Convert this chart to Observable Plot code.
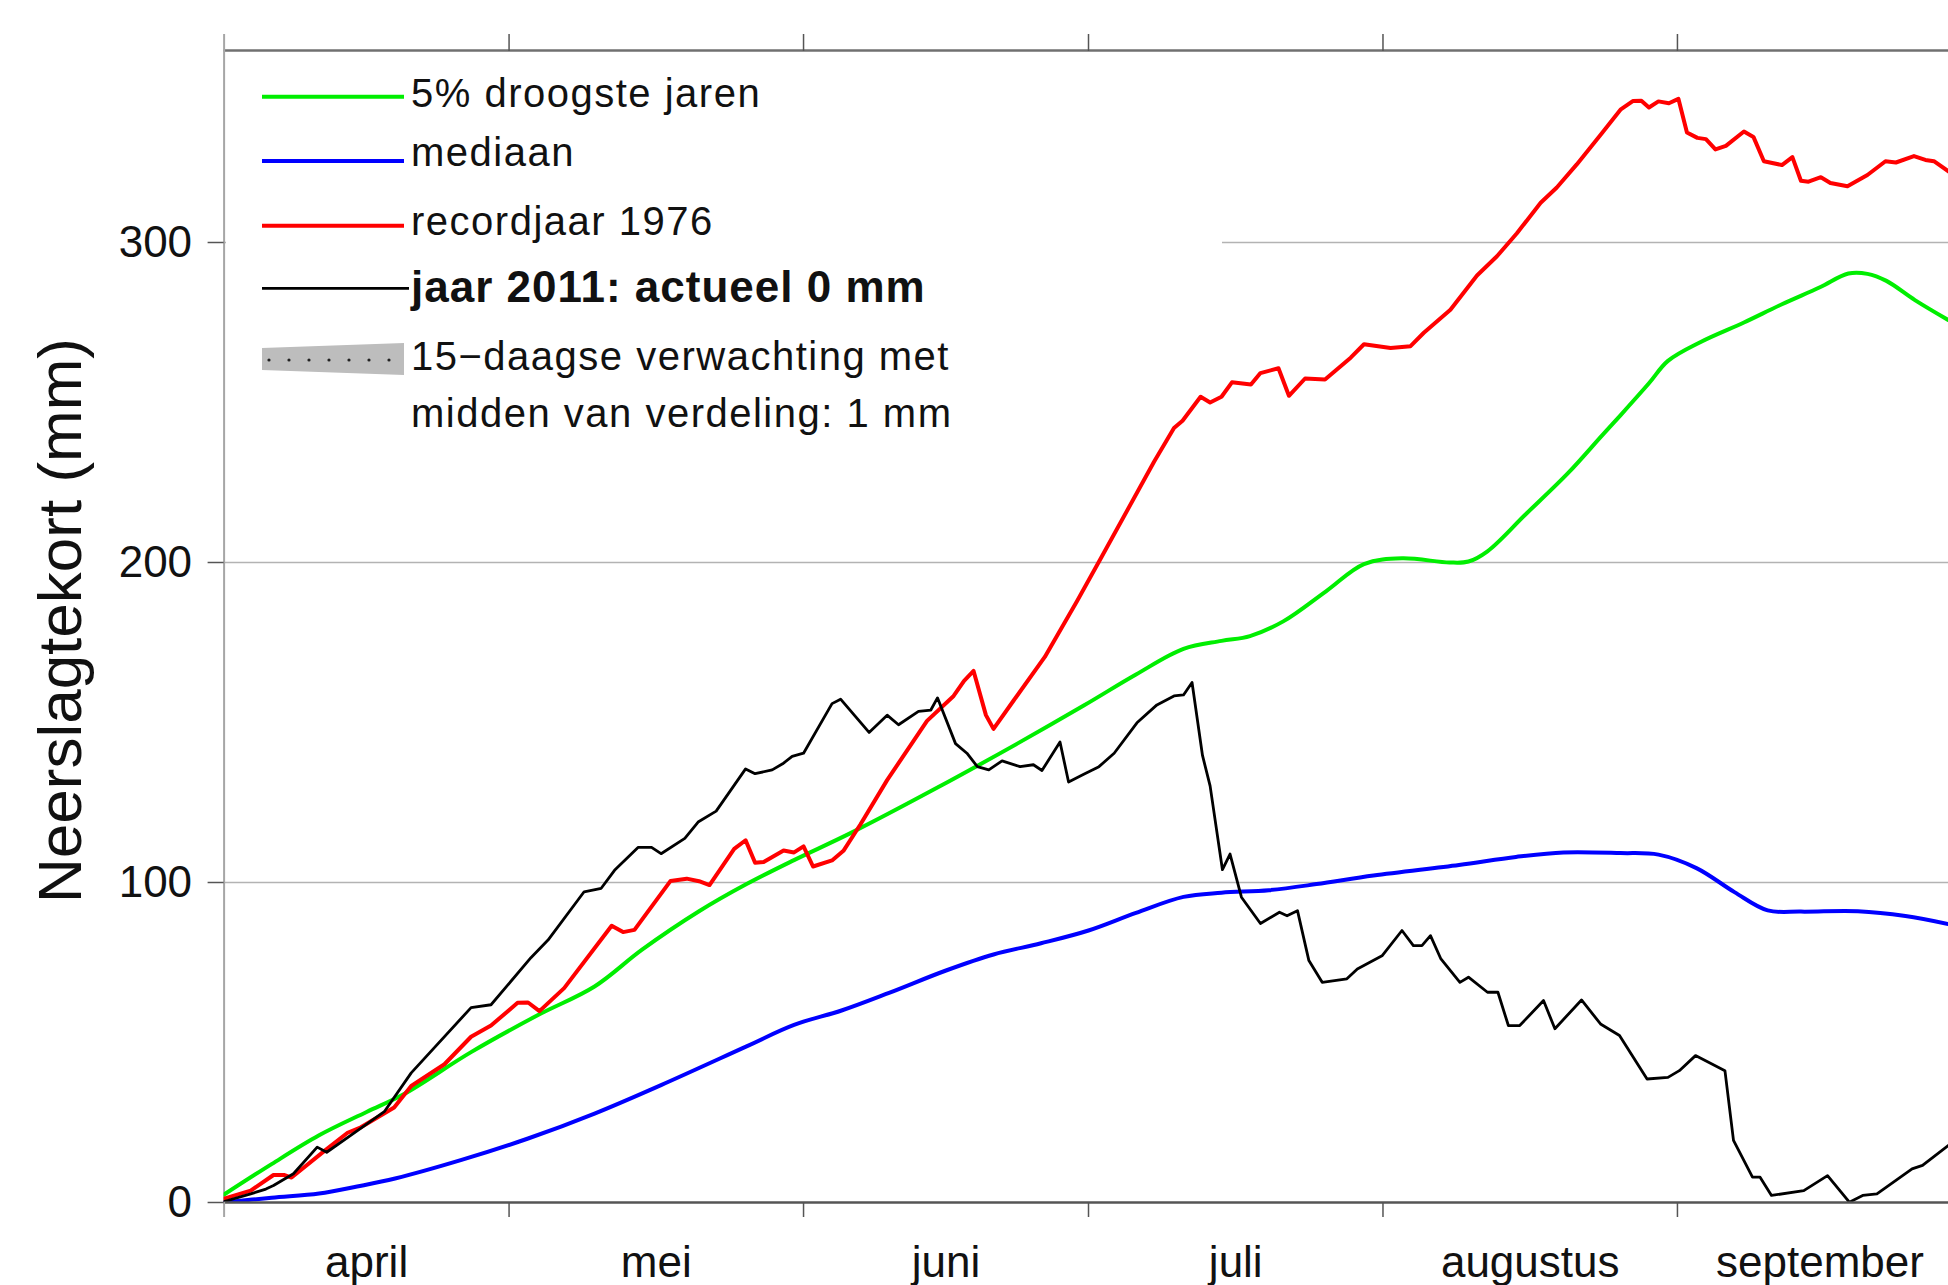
<!DOCTYPE html>
<html><head><meta charset="utf-8">
<script src="https://cdn.jsdelivr.net/npm/d3@7"></script>
<script src="https://cdn.jsdelivr.net/npm/@observablehq/plot@0.6"></script>
<style>
html,body{margin:0;padding:0;background:#fff;overflow:hidden;}
#wrap{position:relative;width:1948px;height:1285px;font-family:"Liberation Sans",Arial,Helvetica,sans-serif;}
#wrap svg{position:absolute;left:0;top:0;}
</style></head><body><div id="wrap"></div>
<script>
// x = days since 1 April 2011
const monthStarts = [0, 30, 61, 91, 122, 153];
const monthMids = [15, 45.5, 76, 106.5, 137.5, 168];
const monthNames = ["april", "mei", "juni", "juli", "augustus", "september"];
const yTicks = [0, 100, 200, 300];
const yLabel = "Neerslagtekort (mm)";

// 5% droogste jaren
const greenDays = [0, 5, 10, 15, 19, 26, 33, 39, 44, 50, 55, 60, 66, 75, 83.5, 90.5, 96, 101, 105, 108, 111.5, 116, 120, 124, 129, 131, 133, 137, 141.5, 145, 147, 150, 152, 155.5, 160, 164, 168, 171, 173, 175, 178, 181.5];
const greenVals = [2.5, 12, 21, 28.3, 34, 47, 58.5, 67.5, 79, 91, 99.5, 107, 115.5, 129.5, 143.4, 155.3, 165, 173, 175.5, 177, 181.6, 191, 199.5, 201.3, 200, 200.3, 203.5, 215, 228, 239.5, 246, 256, 263, 269, 275, 280.7, 286, 290.3, 290.2, 288, 282, 275.8];

// mediaan
const blueDays = [0, 5, 10, 14, 18, 25, 32, 39, 46, 55, 60, 65, 70, 76, 81, 86, 91, 96, 101, 105, 110, 115, 121, 130, 136, 141, 147, 151, 155, 159, 162.5, 166, 172, 177, 181.5];
const blueVals = [0, 1.5, 2.8, 5, 7.5, 13.3, 20, 27.8, 36.7, 48.8, 55.5, 60, 65.5, 72.5, 77.5, 81, 85, 90.5, 95.5, 96.8, 97.6, 99.5, 102.2, 105.5, 108, 109.4, 109.2, 108.7, 104.5, 97, 91.3, 90.9, 91, 89.5, 87];

// recordjaar 1976
const redDays = [0, 2.8, 5.2, 6.3, 7.1, 10.6, 13, 14.4, 17.9, 19.7, 23.2, 26, 28.1, 30.9, 32, 33.2, 35.8, 40.8, 42, 43.2, 47, 48.7, 50, 51.1, 53.7, 54.9, 55.9, 56.8, 58.9, 60, 61, 62, 64, 65.2, 67, 69.8, 74, 76.8, 77.9, 78.9, 80.2, 81, 83.1, 86.4, 89.8, 92.3, 97.9, 100, 100.9, 102.8, 103.8, 105, 106.1, 108.1, 109.1, 111, 112.1, 113.8, 115.9, 118.6, 120, 122.8, 124.9, 126.3, 129.1, 131.9, 134, 136.1, 138.6, 140.3, 142.4, 145, 147, 148.3, 149.2, 150, 151, 152.1, 153.1, 154, 155.1, 156, 157, 158.1, 160, 161, 162.1, 164, 165.1, 166, 166.8, 168.1, 169.1, 170.9, 173, 174.9, 176, 177.9, 179.1, 180, 181.6];
const redVals = [1.2, 3.7, 8.6, 8.6, 7.8, 16.2, 21.8, 23.5, 29.7, 36.4, 43.2, 51.8, 55.3, 62.4, 62.5, 59.8, 67, 86.5, 84.5, 85.2, 100.5, 101.2, 100.4, 99.2, 110.5, 113.2, 106.2, 106.4, 110, 109.4, 111.3, 105, 106.9, 109.9, 118.2, 132, 150.5, 158.3, 163, 166.1, 152.3, 148, 156.8, 170.5, 188, 201.3, 231.5, 242, 244.3, 251.8, 250, 251.8, 256.3, 255.6, 259.2, 260.7, 252.1, 257.5, 257.2, 264, 268.2, 267, 267.6, 271.8, 279, 289.7, 295.7, 302.9, 312.4, 317.2, 324.4, 334, 341.5, 344.2, 344.3, 342.2, 344.1, 343.5, 344.9, 334.4, 332.7, 332.3, 329.1, 330.2, 334.7, 333, 325.4, 324.2, 326.7, 319.3, 319, 320.4, 318.6, 317.6, 321.1, 325.4, 325, 327, 325.8, 325.4, 322.1];

// jaar 2011
const blackDays = [0, 2.8, 4.4, 5.2, 7.3, 9.8, 10.8, 14.3, 16.9, 19.7, 26, 28.1, 32.3, 34.1, 37.9, 39.7, 41.1, 43.6, 45, 46, 48.5, 49.9, 51.8, 54.9, 55.9, 57.7, 58.8, 59.8, 61, 64, 64.9, 67.9, 69.8, 71, 73.1, 74.4, 75.1, 77, 78.2, 79.3, 80.5, 81.9, 83.8, 85.2, 86.1, 88, 88.9, 90.5, 92.1, 93.7, 96.1, 98.2, 100, 101, 101.9, 103, 103.8, 105.1, 105.9, 107.1, 109.1, 111.1, 111.9, 113, 114.2, 115.6, 118.2, 119.3, 121.9, 124, 125.2, 126.1, 127, 128.1, 130.1, 131, 133, 134.1, 135.2, 136.4, 138.9, 140.1, 142.9, 144.9, 146.9, 149.8, 152, 153.2, 154.9, 158, 158.9, 160.9, 161.7, 162.9, 166.3, 168.8, 171.1, 172.5, 174, 177.7, 178.8, 181.5];
const blackVals = [0.3, 2.7, 4.2, 5.3, 9, 17.3, 15.7, 23, 28.5, 40.5, 60.9, 61.8, 76.5, 82, 97.1, 98.2, 103.8, 111, 111, 109, 113.8, 118.9, 122.3, 135.5, 134, 135.2, 137.1, 139.4, 140.4, 155.9, 157.3, 146.9, 152.3, 149.3, 153.5, 153.9, 157.7, 143.4, 140.4, 136.2, 135.2, 138, 136.2, 136.8, 135, 143.9, 131.4, 133.8, 136.2, 140.4, 149.9, 155.5, 158.3, 158.6, 162.5, 139.7, 130.2, 104, 108.9, 95.4, 87.2, 90.7, 89.6, 91.2, 75.6, 68.8, 69.9, 73, 77.1, 85, 80.3, 80.3, 83.4, 76.1, 68.8, 70.4, 65.7, 65.7, 55.3, 55.3, 63.1, 54.3, 63.3, 55.8, 52.2, 38.6, 39.1, 41.2, 45.9, 41.2, 19.4, 7.9, 7.9, 2.2, 3.7, 8.4, 0.1, 2.2, 2.7, 10.5, 11.6, 17.8];

const legendLabels = ["5% droogste jaren", "mediaan", "recordjaar 1976", "jaar 2011: actueel 0 mm", "15\u2212daagse verwachting met", "midden van verdeling: 1 mm"];
const seriesColors = ["#00ee00", "#0000ff", "#ff0000", "#000000"];

const series = [
  {days: greenDays, vals: greenVals, color: seriesColors[0], width: 4, curve: "catmull-rom"},
  {days: blueDays, vals: blueVals, color: seriesColors[1], width: 4, curve: "catmull-rom"},
  {days: redDays, vals: redVals, color: seriesColors[2], width: 4, curve: "linear"},
  {days: blackDays, vals: blackVals, color: seriesColors[3], width: 2.8, curve: "linear"}
];

const FONT = '"Liberation Sans", Arial, Helvetica, sans-serif';
const W = 1948, H = 1285, ML = 223.6, MT = 50, MB = 83;
const pxPerDay = 9.499;
const xEnd = (W - ML) / pxPerDay;

const lineMarks = series.map(s => Plot.line(s.days.map((d, i) => ({d, v: s.vals[i]})), {
  x: "d", y: "v", stroke: s.color, strokeWidth: s.width, curve: s.curve, clip: true, strokeLinejoin: "round"
}));

const plot = Plot.plot({
  width: W, height: H,
  marginLeft: ML, marginRight: 0, marginTop: MT, marginBottom: MB,
  style: {fontFamily: FONT, background: "white", color: "#111"},
  x: {domain: [0, xEnd], label: null},
  y: {domain: [0, 360], label: null},
  marks: [
    Plot.ruleY(yTicks.filter(t => t > 0), {stroke: "#b3b3b3", strokeWidth: 1.6}),
    Plot.ruleY([360], {stroke: "#707070", strokeWidth: 2.4}),
    Plot.ruleX([0], {stroke: "#a6a6a6", strokeWidth: 2}),
    ...lineMarks,
    Plot.ruleY([0], {stroke: "#555", strokeWidth: 2.6}),
    Plot.axisX({anchor: "top", ticks: monthStarts.slice(1), tickSize: 17, tickFormat: () => "", stroke: "#555", strokeWidth: 1.5, label: null}),
    Plot.axisX({anchor: "top", ticks: [0], tickSize: 17, tickFormat: () => "", stroke: "#a6a6a6", strokeWidth: 2, label: null}),
    Plot.axisX({anchor: "bottom", ticks: monthStarts.slice(1), tickSize: 15, tickFormat: () => "", stroke: "#555", strokeWidth: 1.5, label: null}),
    Plot.axisX({anchor: "bottom", ticks: [0], tickSize: 15, tickFormat: () => "", stroke: "#a6a6a6", strokeWidth: 2, label: null}),
    Plot.axisX({anchor: "bottom", ticks: monthMids, tickSize: 0, tickPadding: 43, fontSize: 44, fill: "#111",
      tickFormat: d => monthNames[monthMids.indexOf(d)], label: null}),
    Plot.axisY({ticks: yTicks, tickSize: 16, tickPadding: 16, fontSize: 44, stroke: "#555", strokeWidth: 1.5, fill: "#111", tickFormat: d => String(d), label: null}),
    Plot.text([yLabel], {frameAnchor: "left", textAnchor: "middle", lineAnchor: "bottom", rotate: -90, dx: 80 - ML, dy: -6, fontSize: 62, fill: "#111"})
  ]
});
const wrap = document.getElementById("wrap");
wrap.appendChild(plot);

// legend overlay; a white strip hides the 300 grid line behind the legend, as in the original
const lg = d3.select(wrap).append("svg").attr("width", W).attr("height", H)
  .style("pointer-events", "none").style("font-family", FONT);
lg.append("rect").attr("x", 226).attr("y", 236).attr("width", 996).attr("height", 11).attr("fill", "white");
const lineY = [96.7, 161, 225.7, 288.3];
const baseY = [107.3, 165.7, 235, 301.7, 370, 426.7];
seriesColors.forEach((c, i) => {
  lg.append("line").attr("x1", 262).attr("x2", i === 3 ? 409 : 404).attr("y1", lineY[i]).attr("y2", lineY[i])
    .attr("stroke", c).attr("stroke-width", i === 3 ? 2.8 : 4);
});
lg.append("polygon").attr("points", "262,348 404,343 404,375 262,370").attr("fill", "#bdbdbd");
d3.range(269, 404, 20).forEach(x => lg.append("circle").attr("cx", x).attr("cy", 360).attr("r", 1.6).attr("fill", "#222"));
legendLabels.forEach((t, i) => {
  const bold = i === 3;
  lg.append("text").attr("x", 411).attr("y", baseY[i]).text(t)
    .attr("font-size", bold ? 44 : 40).attr("font-weight", bold ? "bold" : "normal")
    .attr("letter-spacing", bold ? 1 : 1.5).attr("fill", "#111");
});
</script></body></html>
